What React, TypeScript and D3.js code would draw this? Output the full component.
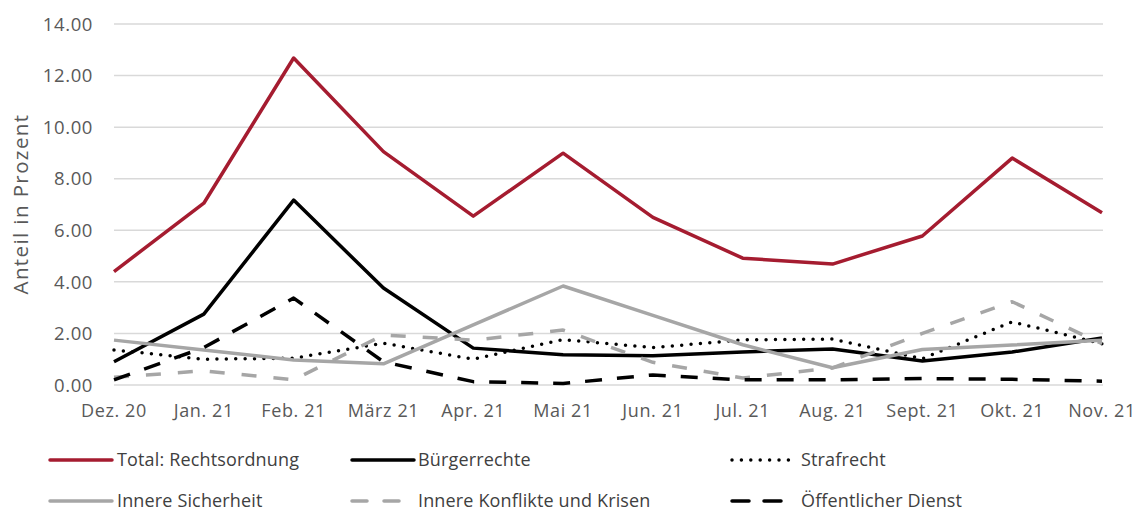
import React from "react";
import * as d3 from "d3";

const months = ["Dez. 20", "Jan. 21", "Feb. 21", "März 21", "Apr. 21", "Mai 21", "Jun. 21", "Jul. 21", "Aug. 21", "Sept. 21", "Okt. 21", "Nov. 21"];
const yTicks = [0, 2, 4, 6, 8, 10, 12, 14];

const total = [4.4, 7.05, 12.68, 9.05, 6.55, 8.99, 6.5, 4.92, 4.69, 5.78, 8.8, 6.68];
const buergerrechte = [0.9, 2.75, 7.17, 3.76, 1.43, 1.17, 1.13, 1.28, 1.4, 0.93, 1.28, 1.82];
const strafrecht = [1.36, 1.0, 1.04, 1.62, 1.0, 1.76, 1.45, 1.75, 1.78, 1.02, 2.45, 1.6];
const innereSicherheit = [1.74, 1.36, 0.97, 0.82, 2.33, 3.84, 2.7, 1.56, 0.67, 1.38, 1.55, 1.74];
const innereKonflikte = [0.3, 0.55, 0.2, 1.94, 1.74, 2.13, 0.88, 0.27, 0.66, 2.0, 3.23, 1.6];
const oeffentlicherDienst = [0.2, 1.45, 3.37, 0.9, 0.13, 0.06, 0.39, 0.2, 0.2, 0.25, 0.22, 0.15];

const seriesNames = ["Total: Rechtsordnung", "Bürgerrechte", "Strafrecht", "Innere Sicherheit", "Innere Konflikte und Krisen", "Öffentlicher Dienst"];
const seriesValues = [total, buergerrechte, strafrecht, innereSicherheit, innereKonflikte, oeffentlicherDienst];

const styles = [
  { color: "#A51C30", dash: "", cap: "butt" },
  { color: "#000000", dash: "", cap: "butt" },
  { color: "#000000", dash: "0 9.4", cap: "round" },
  { color: "#A6A6A6", dash: "", cap: "butt" },
  { color: "#A6A6A6", dash: "15 17", cap: "butt" },
  { color: "#000000", dash: "17 15", cap: "butt" },
];

const W = 1137, H = 511;
const FONT = "'Open Sans', Lato, sans-serif";

export default function App() {
  const x = d3.scalePoint<string>().domain(months).range([114, 1102]);
  const y = d3.scaleLinear().domain([0, 14]).range([385, 24]);
  const line = d3.line<number>().x((_, i) => x(months[i]) as number).y((d) => y(d));

  const legendPos = [
    { x: 50, y: 460 }, { x: 352, y: 460 }, { x: 732, y: 460 },
    { x: 50, y: 501 }, { x: 352, y: 501 }, { x: 732, y: 501 },
  ];
  const legendTextX = [117, 418, 801, 117, 418, 801];

  return (
    <svg width={W} height={H} style={{ position: "absolute", left: 0, top: 0, background: "#fff" }} fontFamily={FONT}>
      {yTicks.map((t) => (
        <g key={t}>
          <line x1={114} x2={1103} y1={y(t)} y2={y(t)} stroke="#D9D9D9" strokeWidth={1.5} />
          <text x={93} y={y(t)} dy="0.36em" textAnchor="end" fontSize={18.5} letterSpacing={0.6} fill="#595959">{t.toFixed(2)}</text>
        </g>
      ))}
      {months.map((m) => (
        <text key={m} x={x(m)} y={417} textAnchor="middle" fontSize={18} letterSpacing={0.6} fill="#595959">{m}</text>
      ))}
      <text transform="translate(28,204) rotate(-90)" textAnchor="middle" fontSize={20.5} letterSpacing={1.4} fill="#595959">Anteil in Prozent</text>
      {seriesValues.map((vals, i) => (
        <path key={i} d={line(vals) || ""} fill="none" stroke={styles[i].color} strokeWidth={3.5}
          strokeDasharray={styles[i].dash || undefined} strokeLinecap={styles[i].cap as any} strokeLinejoin="round" />
      ))}
      {seriesNames.map((n, i) => (
        <g key={n}>
          <line x1={legendPos[i].x} x2={legendPos[i].x + 62} y1={legendPos[i].y} y2={legendPos[i].y}
            stroke={styles[i].color} strokeWidth={3.5} strokeDasharray={styles[i].dash || undefined}
            strokeLinecap="round" />
          <text x={legendTextX[i]} y={legendPos[i].y} dy="0.36em" fontSize={18} letterSpacing={0.15} fill="#404040">{n}</text>
        </g>
      ))}
    </svg>
  );
}
